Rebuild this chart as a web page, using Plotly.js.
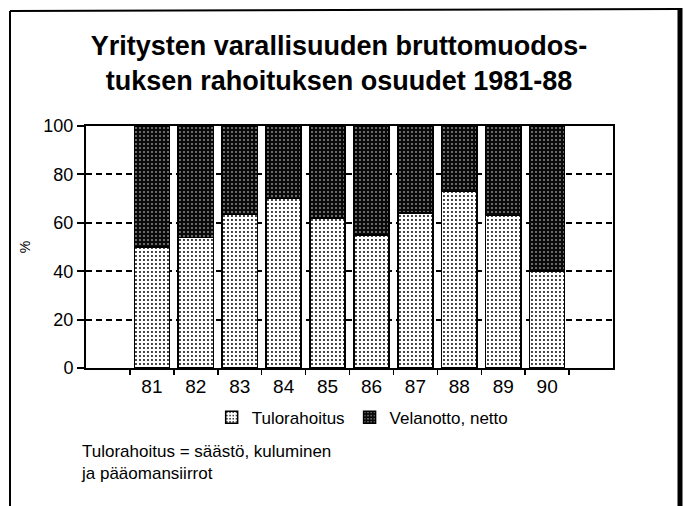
<!DOCTYPE html>
<html>
<head>
<meta charset="utf-8">
<script src="https://cdn.plot.ly/plotly-3.0.1.min.js"></script>
<style>html,body{margin:0;padding:0;background:#fff;}</style>
</head>
<body>
<div id="chart" style="width:685px;height:506px;"></div>
<script>
// Years (tick labels)
const years = ['81', '82', '83', '84', '85', '86', '87', '88', '89', '90'];
// Share of internal financing (Tulorahoitus), %
const tulorahoitus = [50, 54, 63.5, 70, 62, 55, 64, 73, 63, 40];
// Share of net borrowing (Velanotto, netto), %
const velanotto = [50, 46, 36.5, 30, 38, 45, 36, 27, 37, 60];
const yTicks = [0, 20, 40, 60, 80, 100];

const FONT = 'Liberation Sans, Arial, Helvetica, sans-serif';

const traces = [
  {
    type: 'bar', name: 'Tulorahoitus', x: years, y: tulorahoitus, width: 0.8,
    marker: {
      color: 'white',
      line: {color: 'black', width: 1.5},
      pattern: {shape: '.', bgcolor: 'white', fgcolor: 'black', size: 4, solidity: 0.18}
    }
  },
  {
    type: 'bar', name: 'Velanotto, netto', x: years, y: velanotto, width: 0.8,
    marker: {
      color: 'black',
      line: {color: 'black', width: 1.5},
      pattern: {shape: '.', bgcolor: '#0a0a0a', fgcolor: '#8a8a8a', size: 4, solidity: 0.2}
    }
  }
];

// pixel helpers for decorative frame (plot area 86..613 x, 126..368 y)
const px = v => (v - 86) / 527;
const py = v => (368 - v) / 242;

const layout = {
  width: 685, height: 506,
  margin: {l: 86, r: 72, t: 126, b: 138},
  paper_bgcolor: 'white', plot_bgcolor: 'white',
  barmode: 'stack',
  showlegend: true,
  font: {family: FONT, color: 'black'},
  title: {
    text: 'Yritysten varallisuuden bruttomuodos-<br>tuksen rahoituksen osuudet 1981-88',
    font: {family: FONT, size: 27, color: 'black', weight: 'bold'},
    x: 0.495, xanchor: 'center', y: 1 - 55 / 506, yanchor: 'middle', yref: 'container'
  },
  xaxis: {
    type: 'category',
    range: [-1.5, 10.5],
    tickson: 'boundaries',
    ticks: 'outside', ticklen: 5, tickwidth: 1.5, tickcolor: 'black',
    showgrid: false, zeroline: false,
    showline: true, linecolor: 'black', linewidth: 2, mirror: true,
    tickfont: {family: FONT, size: 19, color: 'black'},
    fixedrange: true
  },
  yaxis: {
    range: [0, 100],
    tickvals: yTicks,
    ticks: 'outside', ticklen: 7, tickwidth: 2, tickcolor: 'black',
    showgrid: true, gridcolor: 'black', gridwidth: 2, griddash: '6px,4px',
    zeroline: false,
    showline: true, linecolor: 'black', linewidth: 2, mirror: true,
    tickfont: {family: FONT, size: 18, color: 'black'},
    title: {text: '%', font: {family: FONT, size: 14, color: 'black'}, standoff: 9},
    fixedrange: true
  },
  legend: {
    orientation: 'h', x: 0.525, xanchor: 'center', y: -0.205, yanchor: 'middle',
    font: {family: FONT, size: 17, color: 'black'},
    traceorder: 'normal', itemclick: false, itemdoubleclick: false
  },
  annotations: [
    {
      xref: 'paper', yref: 'paper', x: px(79), y: py(440), xanchor: 'left', yanchor: 'top',
      align: 'left', showarrow: false,
      text: 'Tulorahoitus = säästö, kuluminen<br>ja pääomansiirrot',
      font: {family: FONT, size: 17, color: 'black'}
    }
  ],
  shapes: [
    {type: 'line', xref: 'paper', yref: 'paper', x0: px(10), x1: px(679), y0: py(11), y1: py(9),
     line: {color: 'black', width: 2}, layer: 'above'},
    {type: 'line', xref: 'paper', yref: 'paper', x0: px(10), x1: px(10), y0: py(11), y1: py(520),
     line: {color: 'black', width: 2}, layer: 'above'},
    {type: 'line', xref: 'paper', yref: 'paper', x0: px(680), x1: px(680), y0: py(8), y1: py(520),
     line: {color: 'black', width: 5}, layer: 'above'}
  ]
};

Plotly.newPlot('chart', traces, layout, {displayModeBar: false, staticPlot: true});
</script>
</body>
</html>
